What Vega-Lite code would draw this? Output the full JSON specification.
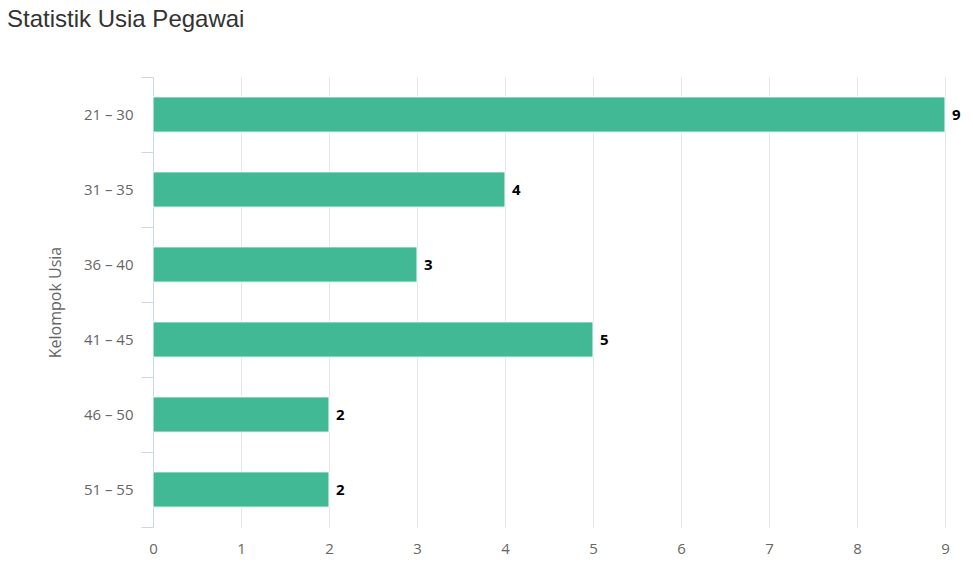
{
  "$schema": "https://vega.github.io/schema/vega-lite/v6.json",
  "autosize": "none",
  "width": 792,
  "height": 450,
  "padding": {"left": 153, "top": 77, "right": 28, "bottom": 53},
  "background": "white",
  "title": {
    "text": "Statistik Usia Pegawai",
    "anchor": "start",
    "frame": "group",
    "dx": -146,
    "offset": 38,
    "font": "Liberation Sans",
    "fontSize": 24,
    "fontWeight": "normal",
    "color": "#333333"
  },
  "config": {
    "view": {"stroke": null},
    "font": "Open Sans"
  },
  "data": {
    "values": [
      {"kelompok": "21 – 30", "jumlah": 9},
      {"kelompok": "31 – 35", "jumlah": 4},
      {"kelompok": "36 – 40", "jumlah": 3},
      {"kelompok": "41 – 45", "jumlah": 5},
      {"kelompok": "46 – 50", "jumlah": 2},
      {"kelompok": "51 – 55", "jumlah": 2}
    ]
  },
  "encoding": {
    "y": {
      "field": "kelompok",
      "type": "nominal",
      "sort": null,
      "scale": {"paddingInner": 0, "paddingOuter": 0},
      "axis": {
        "title": "Kelompok Usia",
        "titleFont": "Open Sans",
        "titleFontSize": 16,
        "titleFontWeight": "normal",
        "titleColor": "#666666",
        "titlePadding": 20,
        "labelFont": "Open Sans",
        "labelFontSize": 15,
        "labelColor": "#666666",
        "labelPadding": 8,
        "domainColor": "#ccd6eb",
        "tickColor": "#ccd6eb",
        "tickSize": 12,
        "tickBand": "extent",
        "grid": false
      }
    },
    "x": {
      "field": "jumlah",
      "type": "quantitative",
      "scale": {"domain": [0, 9], "nice": false},
      "axis": {
        "title": null,
        "values": [0, 1, 2, 3, 4, 5, 6, 7, 8, 9],
        "labelOverlap": false,
        "labelFlush": false,
        "labelFont": "Open Sans",
        "labelFontSize": 15,
        "labelColor": "#666666",
        "labelPadding": 14,
        "domain": false,
        "ticks": false,
        "grid": true,
        "gridColor": "#e6e6e6"
      }
    }
  },
  "layer": [
    {
      "mark": {"type": "bar", "color": "#42b995", "stroke": "white", "strokeWidth": 1, "height": {"band": 0.47}}
    },
    {
      "mark": {"type": "text", "align": "left", "dx": 7, "font": "Open Sans", "fontSize": 15, "fontWeight": "bold", "color": "#000000"},
      "encoding": {"text": {"field": "jumlah", "type": "quantitative"}}
    }
  ]
}
